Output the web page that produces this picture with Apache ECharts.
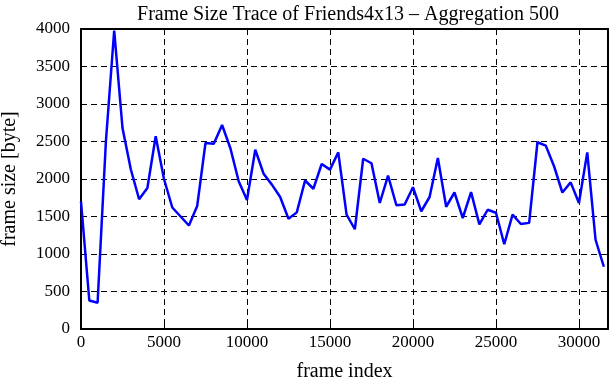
<!DOCTYPE html>
<html>
<head>
<meta charset="utf-8">
<script src="https://cdn.jsdelivr.net/npm/echarts@6/dist/echarts.min.js"></script>
<style>
  html, body { margin: 0; padding: 0; background: #fff; }
  #chart { width: 611px; height: 380px; }
</style>
</head>
<body>
<div id="chart"></div>
<script>
// frame index of each aggregated point (every 500 frames)
const frameIndex = [
  0, 500, 1000, 1500, 2000, 2500, 3000, 3500, 4000, 4500,
  5000, 5500, 6000, 6500, 7000, 7500, 8000, 8500, 9000, 9500,
  10000, 10500, 11000, 11500, 12000, 12500, 13000, 13500, 14000, 14500,
  15000, 15500, 16000, 16500, 17000, 17500, 18000, 18500, 19000, 19500,
  20000, 20500, 21000, 21500, 22000, 22500, 23000, 23500, 24000, 24500,
  25000, 25500, 26000, 26500, 27000, 27500, 28000, 28500, 29000, 29500,
  30000, 30500, 31000, 31500
];
// frame size in bytes
const frameSize = [
  1700, 380, 350, 2500, 3980, 2680, 2130, 1730, 1880, 2570,
  2000, 1620, 1500, 1380, 1640, 2480, 2470, 2720, 2410, 1970,
  1720, 2390, 2070, 1925, 1760, 1470, 1555, 1980, 1870, 2200,
  2125, 2355, 1525, 1330, 2270, 2210, 1680, 2045, 1650, 1660,
  1890, 1570, 1760, 2280, 1630, 1820, 1480, 1825, 1395, 1590,
  1550, 1130, 1525, 1400, 1415, 2490, 2445, 2170, 1820, 1955,
  1680, 2355, 1190, 830
];
const yTicks = [0, 500, 1000, 1500, 2000, 2500, 3000, 3500, 4000];

const font = 'Liberation Serif';
const points = frameIndex.map((x, i) => [x, frameSize[i]]);

let chart = echarts.init(document.getElementById('chart'));

const tickStyle = { inside: true, length: 6, lineStyle: { color: '#000', width: 1 } };
const borderLine = { show: true, onZero: false, lineStyle: { color: '#000', width: 2 } };
const plain = v => String(v);

const option = {
  animation: false,
  title: {
    text: 'Frame Size Trace of Friends4x13 \u2013 Aggregation 500',
    left: 343, top: 0, textAlign: 'center',
    textStyle: { fontFamily: font, fontSize: 20, fontWeight: 'normal', color: '#000' }
  },
  grid: { left: 81, right: 3, top: 29, bottom: 51, containLabel: false, outerBoundsMode: 'none' },
  xAxis: [{
    type: 'value', min: 0, max: 31750, interval: 5000,
    name: 'frame index', nameLocation: 'middle', nameGap: 33,
    nameTextStyle: { fontFamily: font, fontSize: 20, color: '#000' },
    axisLine: borderLine, axisTick: tickStyle,
    axisLabel: { margin: 5, showMaxLabel: false, formatter: plain, fontFamily: font, fontSize: 17, color: '#000' },
    splitLine: { show: true, lineStyle: { color: '#000', width: 1, type: [6, 4] } }
  }, {
    type: 'value', position: 'top', min: 0, max: 31750, interval: 5000,
    axisLine: borderLine, axisTick: tickStyle,
    axisLabel: { show: false }, splitLine: { show: false }
  }],
  yAxis: [{
    type: 'value', min: yTicks[0], max: yTicks[yTicks.length - 1], interval: 500,
    name: 'frame size [byte]', nameLocation: 'middle', nameGap: 61,
    nameTextStyle: { fontFamily: font, fontSize: 20, color: '#000' },
    axisLine: borderLine, axisTick: tickStyle,
    axisLabel: { margin: 11, formatter: plain, fontFamily: font, fontSize: 17, color: '#000' },
    splitLine: { show: true, lineStyle: { color: '#000', width: 1, type: [6, 4] } }
  }, {
    type: 'value', position: 'right', min: 0, max: 4000, interval: 500,
    axisLine: borderLine, axisTick: tickStyle,
    axisLabel: { show: false }, splitLine: { show: false }
  }],
  series: [{
    type: 'line',
    data: points,
    showSymbol: false,
    lineStyle: { color: '#0000ff', width: 2.5 },
    itemStyle: { color: '#0000ff' },
    z: 5
  }]
};

chart.setOption(option);
</script>
</body>
</html>
